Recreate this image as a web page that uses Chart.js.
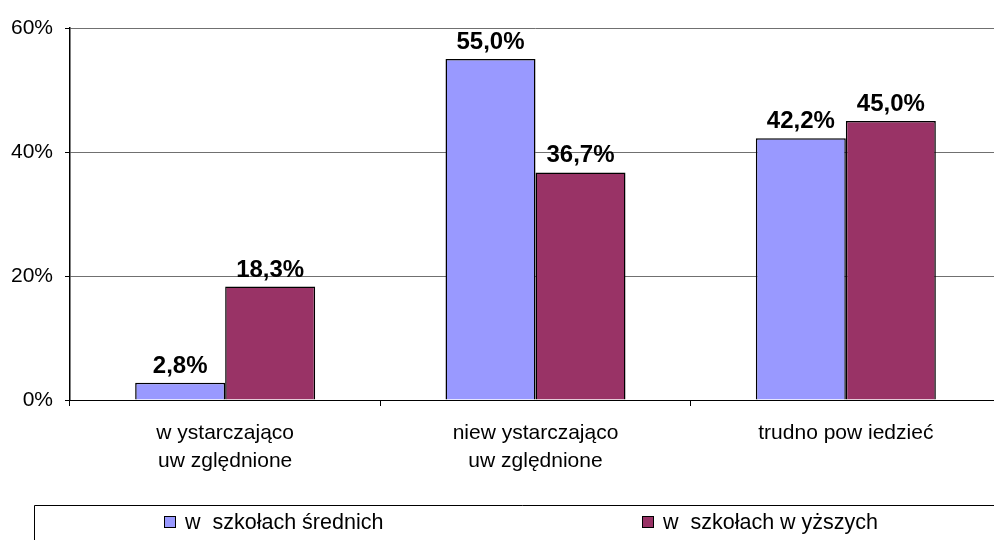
<!DOCTYPE html>
<html>
<head>
<meta charset="utf-8">
<script src="https://cdn.jsdelivr.net/npm/chart.js@4/dist/chart.umd.min.js"></script>
<style>
  html, body { margin: 0; padding: 0; background: #fff; overflow: hidden; }
  #wrap { width: 1010px; height: 540px; }
</style>
</head>
<body>
<div id="wrap"><canvas id="myChart" width="1010" height="540"></canvas></div>
<script>
// chart data
const categories = [
    ['w ystarczająco', 'uw zględnione'],
    ['niew ystarczająco', 'uw zględnione'],
    'trudno pow iedzieć'
];
const seriesNames = ['w  szkołach średnich', 'w  szkołach w yższych'];
const srednie = [2.8, 55.0, 42.2];
const wyzsze = [18.3, 36.7, 45.0];
const yTicks = [0, 20, 40, 60];

const FONT = "'Liberation Sans', Arial, sans-serif";

// value labels above bars
const barLabels = {
    id: 'barLabels',
    afterDatasetsDraw(chart) {
        const c = chart.ctx;
        c.save();
        c.font = 'bold 24px ' + FONT;
        c.fillStyle = '#000';
        c.textAlign = 'center';
        c.textBaseline = 'alphabetic';
        chart.data.datasets.forEach((ds, i) => {
            chart.getDatasetMeta(i).data.forEach((bar, j) => {
                c.fillText(ds.data[j].toFixed(1).replace('.', ',') + '%', bar.x, bar.y - 10);
            });
        });
        c.restore();
    }
};

// excel style legend box at the bottom
const bottomLegend = {
    id: 'bottomLegend',
    afterDraw(chart) {
        const c = chart.ctx;
        c.save();
        c.strokeStyle = '#000';
        c.lineWidth = 1;
        c.beginPath();
        c.moveTo(34.5, 540);
        c.lineTo(34.5, 505.5);
        c.lineTo(chart.width, 505.5);
        c.stroke();
        const xs = [164, 642];
        c.font = '21.5px ' + FONT;
        c.textBaseline = 'middle';
        c.textAlign = 'left';
        chart.data.datasets.forEach((ds, i) => {
            c.fillStyle = ds.backgroundColor;
            c.fillRect(xs[i] + 0.5, 516.5, 11, 11);
            c.strokeStyle = '#000';
            c.strokeRect(xs[i] + 0.5, 516.5, 11, 11);
            c.fillStyle = '#000';
            c.fillText(ds.label, xs[i] + 21, 523);
        });
        c.restore();
    }
};

new Chart(document.getElementById('myChart'), {
    type: 'bar',
    data: {
        labels: categories,
        datasets: [{
            label: seriesNames[0],
            data: srednie,
            backgroundColor: '#9999FF',
            borderColor: '#000',
            borderWidth: 1.5
        }, {
            label: seriesNames[1],
            data: wyzsze,
            backgroundColor: '#993366',
            borderColor: '#000',
            borderWidth: 1.5
        }]
    },
    options: {
        responsive: false,
        animation: false,
        layout: { padding: { top: 28, right: 9, left: 0, bottom: 0 } },
        categoryPercentage: 0.58,
        barPercentage: 1,
        plugins: { legend: { display: false }, tooltip: { enabled: false } },
        scales: {
            x: {
                afterFit(s) { s.height = 140; },
                grid: { drawOnChartArea: false, drawTicks: true, tickLength: 6, tickColor: '#000', offset: true },
                border: { color: '#000', width: 1 },
                ticks: { color: '#000', font: { family: FONT, size: 21, lineHeight: 1.3 }, padding: 14, maxRotation: 0 }
            },
            y: {
                min: 0,
                max: 60,
                afterFit(s) { s.width = 70; },
                afterBuildTicks(s) { s.ticks = yTicks.map(v => ({ value: v })); },
                grid: { color: '#707070', tickColor: '#000', tickLength: 5 },
                border: { color: '#000', width: 1.5 },
                ticks: { color: '#000', font: { family: FONT, size: 21 }, padding: 12, callback: v => v + '%' }
            }
        }
    },
    plugins: [barLabels, bottomLegend]
});
</script>
</body>
</html>
